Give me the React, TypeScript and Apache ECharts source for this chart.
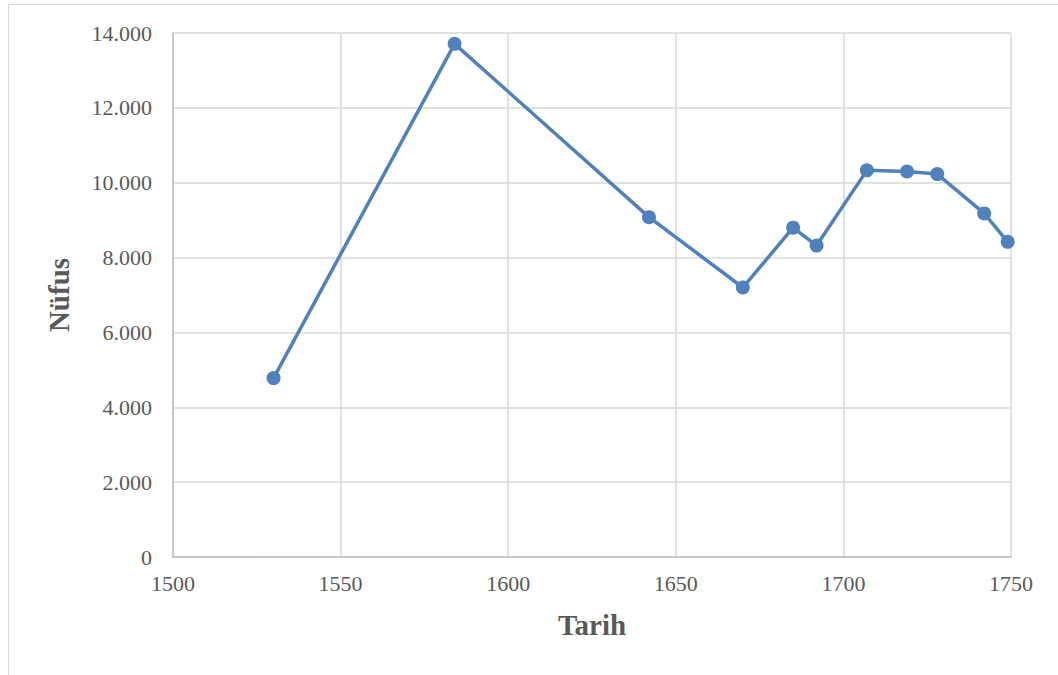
import React, { useEffect, useRef } from "react";
import * as echarts from "echarts";

const years = [1530, 1584, 1642, 1670, 1685, 1692, 1707, 1719, 1728, 1742, 1749];
const population = [4780, 13710, 9080, 7200, 8800, 8320, 10330, 10300, 10230, 9180, 8420];
const xTitle = "Tarih";
const yTitle = "Nüfus";

const fmt = (v: number) => {
  if (v === 0) return "0";
  const s = String(Math.round(v));
  return s.replace(/\B(?=(\d{3})+(?!\d))/g, ".");
};

export default function App() {
  const ref = useRef<HTMLDivElement>(null);
  useEffect(() => {
    if (!ref.current) return;
    const chart = echarts.init(ref.current, undefined, { renderer: "svg" });
    const font = "'Liberation Serif', 'Times New Roman', serif";
    chart.setOption({
      animation: false,
      backgroundColor: "#ffffff",
      grid: { left: 173, right: 47, top: 33, bottom: 118, containLabel: false },
      graphic: [
        {
          type: "rect",
          shape: { x: 8.5, y: 4.5, width: 1100, height: 700 },
          style: { fill: "none", stroke: "#d9d9d9", lineWidth: 1 },
          silent: true,
        },
      ],
      xAxis: {
        type: "value",
        min: 1500,
        max: 1750,
        interval: 50,
        name: xTitle,
        nameLocation: "middle",
        nameGap: 53,
        nameTextStyle: { fontFamily: font, fontSize: 29, fontWeight: "bold", color: "#595959" },
        axisLine: { show: true, lineStyle: { color: "#bfbfbf", width: 1.5 } },
        axisTick: { show: false },
        axisLabel: { fontFamily: font, fontSize: 22, color: "#595959", margin: 15, formatter: (v: number) => String(v) },
        splitLine: { show: true, lineStyle: { color: "#d9d9d9", width: 1.5 } },
      },
      yAxis: {
        type: "value",
        min: 0,
        max: 14000,
        interval: 2000,
        name: yTitle,
        nameLocation: "middle",
        nameGap: 100,
        nameRotate: 90,
        nameTextStyle: { fontFamily: font, fontSize: 29, fontWeight: "bold", color: "#595959" },
        axisLine: { show: true, lineStyle: { color: "#bfbfbf", width: 1.5 } },
        axisTick: { show: false },
        axisLabel: { fontFamily: font, fontSize: 22, color: "#595959", margin: 21, formatter: fmt },
        splitLine: { show: true, lineStyle: { color: "#d9d9d9", width: 1.5 } },
      },
      series: [
        {
          type: "line",
          data: years.map((y, i) => [y, population[i]]),
          symbol: "circle",
          symbolSize: 14,
          lineStyle: { color: "#4f81bd", width: 3.5 },
          itemStyle: { color: "#4f81bd" },
        },
      ],
    });
    return () => chart.dispose();
  }, []);
  return (
    <div
      ref={ref}
      style={{ position: "fixed", left: 0, top: 0, width: 1058, height: 675 }}
    />
  );
}
